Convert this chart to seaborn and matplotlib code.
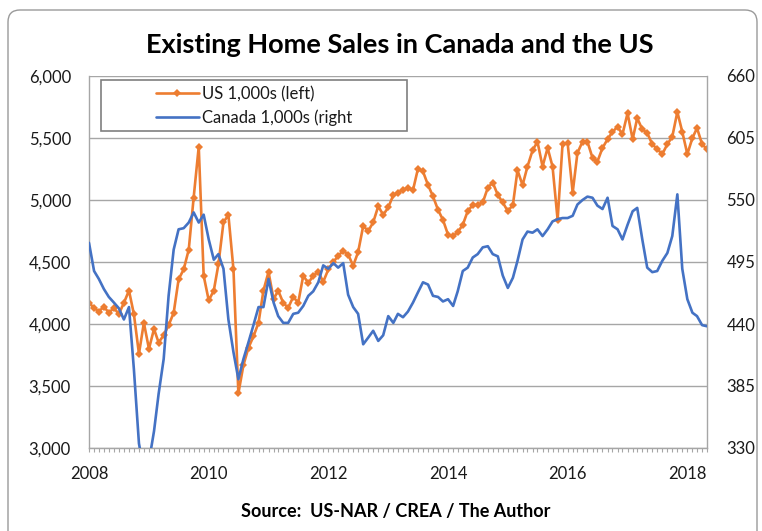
import numpy as np
import pandas as pd
import seaborn as sns
import matplotlib.pyplot as plt
import matplotlib.dates as mdates
from matplotlib.patches import Rectangle, FancyBboxPatch
from matplotlib.lines import Line2D
from matplotlib.ticker import FuncFormatter

# monthly, Jan 2008 - May 2018
months = pd.date_range("2008-01-01", periods=125, freq="MS")

us_sales = [
    4170, 4130, 4100, 4140, 4090, 4130, 4080, 4170, 4270, 4080,
    3760, 4010, 3800, 3960, 3850, 3910, 3990, 4090, 4360, 4440,
    4600, 5020, 5430, 4390, 4190, 4270, 4480, 4820, 4880, 4440,
    3440, 3670, 3810, 3900, 4010, 4270, 4420, 4200, 4270, 4170,
    4130, 4220, 4170, 4390, 4330, 4390, 4420, 4340, 4440, 4500,
    4550, 4590, 4560, 4470, 4580, 4790, 4750, 4820, 4950, 4880,
    4940, 5040, 5060, 5080, 5100, 5080, 5250, 5230, 5120, 5030,
    4920, 4840, 4720, 4710, 4740, 4800, 4910, 4960, 4960, 4980,
    5100, 5140, 5040, 4980, 4910, 4960, 5240, 5120, 5270, 5400,
    5470, 5270, 5420, 5270, 4840, 5450, 5460, 5060, 5380, 5470,
    5470, 5340, 5310, 5420, 5490, 5550, 5590, 5530, 5700, 5490,
    5660, 5570, 5540, 5450, 5410, 5370, 5450, 5510, 5710, 5550,
    5370, 5500, 5580, 5450, 5410,
]

canada_sales = [
    512, 487, 480, 471, 464, 459, 454, 444, 455, 400,
    334, 310, 318, 345, 378, 409, 465, 506, 524, 525,
    530, 539, 530, 537, 515, 497, 502, 489, 444, 415,
    391, 409, 424, 439, 455, 455, 480, 459, 447, 441,
    441, 449, 450, 456, 465, 469, 477, 492, 489, 494,
    490, 494, 466, 455, 449, 422, 428, 434, 425, 430,
    447, 441, 449, 446, 451, 459, 468, 477, 475, 465,
    464, 460, 462, 456, 469, 487, 490, 499, 502, 508,
    509, 502, 500, 483, 472, 481, 496, 515, 522, 521,
    524, 518, 524, 531, 533, 534, 534, 536, 546, 550,
    553, 552, 545, 542, 552, 527, 524, 515, 528, 540,
    543, 515, 490, 486, 487, 496, 503, 518, 555, 489,
    462, 450, 447, 439, 438,
]

left_ticks = [3000, 3500, 4000, 4500, 5000, 5500, 6000]
right_ticks = [330, 385, 440, 495, 550, 605, 660]

ORANGE = "#ED7D31"
BLUE = "#4472C4"
GRID = "#a6a6a6"
TXT = "#1a1a1a"

df = pd.DataFrame({"month": months, "us": us_sales, "canada": canada_sales})

sns.set_theme(style="white")
plt.rcParams["font.family"] = ["Lato", "DejaVu Sans"]

fig = plt.figure(figsize=(7.62, 5.31), dpi=100)
ax = fig.add_axes([89 / 762, 1 - 448 / 531, (707 - 89) / 762, (448 - 76) / 531])
ax2 = ax.twinx()

sns.lineplot(data=df, x="month", y="us", ax=ax, color=ORANGE, lw=1.9,
             marker="D", markersize=4.2, markeredgewidth=0, label=None)
sns.lineplot(data=df, x="month", y="canada", ax=ax2, color=BLUE, lw=1.9, label=None)

ax.set_ylim(3000, 6000)
ax2.set_ylim(330, 660)
ax.set_yticks(left_ticks)
ax2.set_yticks(right_ticks)
ax.yaxis.set_major_formatter(FuncFormatter(lambda v, p: f"{v:,.0f}"))
ax.set_xlim(months[0], months[-1])

ax.xaxis.set_major_locator(mdates.YearLocator(2))
ax.xaxis.set_major_formatter(mdates.DateFormatter("%Y"))
ax.xaxis.set_minor_locator(mdates.MonthLocator())

ax.set_xlabel("")
ax.set_ylabel("")
ax2.set_ylabel("")

ax.set_axisbelow(True)
ax.yaxis.grid(True, color=GRID, lw=1.0)
ax.xaxis.grid(False)
ax2.grid(False)

for s in ["left", "right", "bottom"]:
    ax.spines[s].set_visible(True)
    ax.spines[s].set_color(GRID)
    ax.spines[s].set_linewidth(1.0)
ax.spines["top"].set_visible(False)
for s in ax2.spines.values():
    s.set_visible(False)

ax.tick_params(axis="x", which="both", direction="out", length=3, width=0.8,
               color=GRID, labelsize=12, labelcolor=TXT, pad=10, bottom=True)
ax.tick_params(axis="y", length=0, pad=13, labelsize=12, labelcolor=TXT)
ax2.tick_params(axis="y", length=0, pad=14, labelsize=12, labelcolor=TXT)

# legend box
ax2.add_patch(Rectangle((101 / 762, 1 - 131 / 531), 306 / 762, 51 / 531,
                        transform=fig.transFigure, facecolor="white",
                        edgecolor="#7f7f7f", lw=1.2, clip_on=False, zorder=10))
handles = [
    Line2D([], [], color=ORANGE, lw=1.9, marker="D", markersize=4.2, markeredgewidth=0),
    Line2D([], [], color=BLUE, lw=1.9),
]
leg = ax2.legend(handles, ["US 1,000s (left)", "Canada 1,000s (right"],
                 loc="center", bbox_to_anchor=(254 / 762, 1 - 106 / 531),
                 bbox_transform=fig.transFigure, frameon=False, fontsize=12,
                 handlelength=2.6, handletextpad=0.2, labelspacing=0.45)
leg.set_zorder(11)
for t in leg.get_texts():
    t.set_color(TXT)

fig.text(400 / 762, 1 - 45 / 531, "Existing Home Sales in Canada and the US",
         ha="center", va="center", fontsize=19.5, fontweight="bold", color="black")
fig.text(396 / 762, 1 - 512 / 531, "Source:  US-NAR / CREA / The Author",
         ha="center", va="center", fontsize=13, fontweight="bold", color="black")

# outer chart border
fig.patches.append(FancyBboxPatch((0.08, -0.2), 7.49, 5.21 + 0.2,
                                  boxstyle="round,pad=0,rounding_size=0.12",
                                  transform=fig.dpi_scale_trans, facecolor="none",
                                  edgecolor="#9a9a9a", lw=1.0))

fig.savefig("out.png", dpi=100)
